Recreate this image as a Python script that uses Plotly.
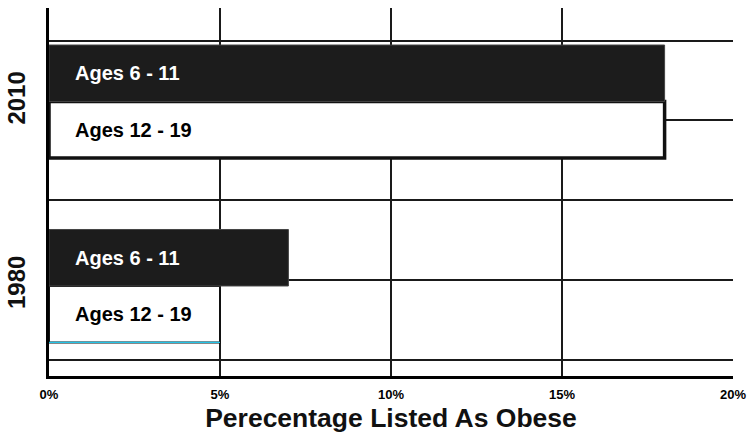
import plotly.graph_objects as go

# Childhood obesity prevalence by age group
years = ["1980", "2010"]
ages_6_11 = [7, 18]
ages_12_19 = [5, 18]
group_labels = ["Ages 6 - 11", "Ages 12 - 19"]
x_ticks = [0, 5, 10, 15, 20]
x_tick_text = [f"{v}%" for v in x_ticks]

FONT = "Liberation Sans, Arial, sans-serif"
W, H = 751, 437
M = dict(l=49, r=18, t=8, b=61)
Y_RANGE = [-0.488, 1.507]
BARGAP = 0.3875
GRID_START, GRID_STEP = 0.033, 0.4323   # horizontal rule spacing (axis units)

year_pos = list(range(len(years)))

plot_h = H - M["t"] - M["b"]
px_per_unit = plot_h / (Y_RANGE[1] - Y_RANGE[0])
bar_px = (1 - BARGAP) / 2 * px_per_unit

fig = go.Figure()

# Older group first so it sits at the bottom of each pair
fig.add_trace(go.Bar(
    y=year_pos, x=ages_12_19, orientation="h", name=group_labels[1],
    marker=dict(color="white", line=dict(color="#111111", width=[2, 3.5])),
    customdata=years, hovertemplate="%{customdata}: %{x}%<extra></extra>",
))
fig.add_trace(go.Bar(
    y=year_pos, x=ages_6_11, orientation="h", name=group_labels[0],
    marker=dict(color="#1c1c1c", line=dict(color="#444444", width=1)),
    customdata=years, hovertemplate="%{customdata}: %{x}%<extra></extra>",
))

# Group labels written inside the bars
for p in year_pos:
    fig.add_annotation(x=0, y=p, xref="paper", yref="y", text=group_labels[0],
                       showarrow=False, xanchor="left", yanchor="middle",
                       xshift=24, yshift=bar_px / 2,
                       font=dict(family=FONT, size=20, color="white", weight="bold"))
    fig.add_annotation(x=0, y=p, xref="paper", yref="y", text=group_labels[1],
                       showarrow=False, xanchor="left", yanchor="middle",
                       xshift=24, yshift=-bar_px / 2,
                       font=dict(family=FONT, size=20, color="black", weight="bold"))

# Thin cyan edge under the 1980 teen bar
fig.add_shape(type="line", xref="x", yref="y", x0=0, x1=ages_12_19[0],
              ysizemode="pixel", yanchor=year_pos[0], y0=-bar_px, y1=-bar_px,
              line=dict(color="#22c4e8", width=1.2), layer="above")

fig.update_layout(
    width=W, height=H, margin=M,
    paper_bgcolor="white", plot_bgcolor="white",
    barmode="group", bargap=BARGAP, bargroupgap=0,
    showlegend=False,
    font=dict(family=FONT, color="black"),
    xaxis=dict(
        range=[0, 20], tickvals=x_ticks, ticktext=x_tick_text,
        showgrid=True, gridcolor="#1a1a1a", gridwidth=1.5,
        zeroline=False, showline=True, linecolor="black", linewidth=2.5,
        ticks="", ticklabelstandoff=5, automargin=False,
        tickfont=dict(family=FONT, size=13, color="black", weight="bold"),
        title=dict(text="Perecentage Listed As Obese", standoff=8,
                   font=dict(family=FONT, size=26.5, color="#111111", weight="bold")),
    ),
    yaxis=dict(
        range=Y_RANGE, tickvals=year_pos, ticktext=years,
        showgrid=False, zeroline=False,
        showline=True, linecolor="black", linewidth=3,
        ticks="", tickangle=-90, ticklabelstandoff=11, automargin=False,
        tickfont=dict(family=FONT, size=24, color="#111111", weight="bold"),
        minor=dict(tick0=GRID_START, dtick=GRID_STEP, showgrid=True,
                   gridcolor="#1a1a1a", gridwidth=1.5, ticks=""),
    ),
)

fig.write_html("out.html")
